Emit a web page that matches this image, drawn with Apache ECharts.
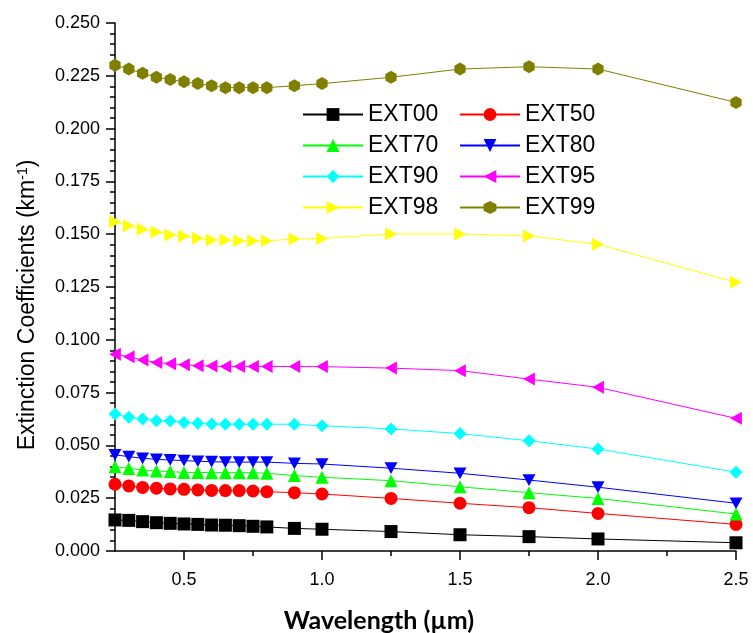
<!DOCTYPE html>
<html>
<head>
<meta charset="utf-8">
<script src="https://cdn.jsdelivr.net/npm/echarts@6/dist/echarts.min.js"></script>
<style>html,body{margin:0;padding:0;background:#fff}#c{width:753px;height:633px}</style>
</head>
<body>
<div id="c"></div>
<script>
const wavelength = [0.25,0.3,0.35,0.4,0.45,0.5,0.55,0.6,0.65,0.7,0.75,0.8,0.9,1.0,1.25,1.5,1.75,2.0,2.5];
const EXT00 = [0.0147,0.0145,0.0139,0.0134,0.0131,0.0128,0.0126,0.0123,0.0122,0.0120,0.0117,0.0114,0.0107,0.0103,0.0092,0.0077,0.0068,0.0057,0.0039];
const EXT50 = [0.0316,0.0308,0.0301,0.0297,0.0294,0.0292,0.0289,0.0287,0.0286,0.0286,0.0284,0.0281,0.0276,0.0270,0.0249,0.0226,0.0205,0.0178,0.0126];
const EXT70 = [0.0399,0.0391,0.0383,0.0379,0.0376,0.0372,0.0372,0.0371,0.0371,0.0371,0.0371,0.0368,0.0357,0.0349,0.0333,0.0304,0.0276,0.0249,0.0175];
const EXT80 = [0.0455,0.0447,0.0439,0.0434,0.0431,0.0428,0.0425,0.0423,0.0421,0.0421,0.0421,0.0421,0.0415,0.0412,0.0392,0.0368,0.0336,0.0302,0.0226];
const EXT90 = [0.0649,0.0633,0.0625,0.0617,0.0616,0.0609,0.0605,0.0601,0.0600,0.0600,0.0600,0.0600,0.0600,0.0593,0.0578,0.0556,0.0522,0.0483,0.0373];
const EXT95 = [0.0931,0.0920,0.0904,0.0893,0.0887,0.0882,0.0877,0.0876,0.0874,0.0874,0.0874,0.0874,0.0873,0.0873,0.0866,0.0854,0.0814,0.0775,0.0628];
const EXT98 = [0.1559,0.1540,0.1523,0.1510,0.1496,0.1492,0.1481,0.1473,0.1473,0.1469,0.1469,0.1469,0.1477,0.1480,0.1501,0.1501,0.1492,0.1452,0.1272];
const EXT99 = [0.2300,0.2282,0.2262,0.2243,0.2232,0.2222,0.2213,0.2203,0.2194,0.2194,0.2194,0.2194,0.2203,0.2213,0.2243,0.2282,0.2293,0.2282,0.2124];
const xMajorTicks = [0.5,1.0,1.5,2.0,2.5];
const xMinorTicks = [0.75,1.25,1.75,2.25];

const seriesDefs = [
  {name:'EXT00', data:EXT00, color:'#000000', symbol:'rect'},
  {name:'EXT50', data:EXT50, color:'#ff0000', symbol:'circle'},
  {name:'EXT70', data:EXT70, color:'#00ff00', symbol:'triangle'},
  {name:'EXT80', data:EXT80, color:'#0000ff', symbol:'path://M0,0L2,0L1,1.8Z'},
  {name:'EXT90', data:EXT90, color:'#00ffff', symbol:'diamond'},
  {name:'EXT95', data:EXT95, color:'#ff00ff', symbol:'path://M1.8,0L0,1L1.8,2Z'},
  {name:'EXT98', data:EXT98, color:'#ffff00', symbol:'path://M0,0L1.8,1L0,2Z'},
  {name:'EXT99', data:EXT99, color:'#808000', symbol:'path://M0,-10L8.66,-5L8.66,5L0,10L-8.66,5L-8.66,-5Z'}
];

const chart = echarts.init(document.getElementById('c'), null, {renderer:'canvas'});
const font = 'Liberation Sans';
const legendCommon = {
  orient:'vertical', itemWidth:60, itemHeight:16, itemGap:8, padding:0,
  textStyle:{fontFamily:font, fontSize:23, color:'#000'},
  selectedMode:false
};
chart.setOption({
  animation:false,
  backgroundColor:'#fff',
  grid:{left:115, top:23, right:17, bottom:82, containLabel:false},
  legend:[
    Object.assign({left:302, top:103, data:['EXT00','EXT70','EXT90','EXT98']}, legendCommon),
    Object.assign({left:459, top:103, data:['EXT50','EXT80','EXT95','EXT99']}, legendCommon)
  ],
  xAxis:[
    {type:'value', min:0.25, max:2.5, interval:0.25, position:'bottom',
     axisLine:{show:true, onZero:false, lineStyle:{color:'#000', width:1.5}},
     axisTick:{show:true, customValues:xMajorTicks, length:9, lineStyle:{color:'#000', width:1.5}},
     axisLabel:{customValues:xMajorTicks, formatter:v=>v.toFixed(1), fontFamily:font, fontSize:18, color:'#000', margin:20},
     splitLine:{show:false}},
    {type:'value', min:0.25, max:2.5, interval:0.25, position:'bottom',
     axisLine:{show:false, onZero:false},
     axisTick:{show:true, customValues:xMinorTicks, length:5, lineStyle:{color:'#000', width:1.5}},
     axisLabel:{show:false}, splitLine:{show:false}}
  ],
  yAxis:{type:'value', min:0, max:0.25, interval:0.025,
    axisLine:{show:true, lineStyle:{color:'#000', width:1.5}},
    axisTick:{show:true, length:9, lineStyle:{color:'#000', width:1.5}},
    minorTick:{show:true, splitNumber:5, length:5, lineStyle:{color:'#000', width:1.5}},
    axisLabel:{formatter:v=>v.toFixed(3), fontFamily:font, fontSize:18, color:'#000', margin:15},
    splitLine:{show:false}},
  graphic:[
    {type:'text', x:28, y:305, rotation:Math.PI/2,
     style:{text:'Extinction Coefficients (km{sup|-1})', fontFamily:font, fontSize:23, fill:'#000',
       align:'center', verticalAlign:'middle',
       rich:{sup:{fontFamily:font, fontSize:14, fill:'#000', verticalAlign:'top', padding:[0,0,10,0]}}}},
    {type:'text', x:379, y:621,
     style:{text:'Wavelength (\u00b5m)', fontFamily:'Lato', fontWeight:'bold', fontSize:25, fill:'#000',
       align:'center', verticalAlign:'middle'}}
  ],
  series: seriesDefs.map(s=>({
    name:s.name, type:'line', xAxisIndex:0,
    data: wavelength.map((x,i)=>[x, s.data[i]]),
    symbol:s.symbol, symbolSize:13, symbolKeepAspect:true, showSymbol:true, showAllSymbol:true,
    clip:false,
    lineStyle:{color:s.color, width:1},
    itemStyle:{color:s.color, borderWidth:0},
    emphasis:{disabled:true}
  }))
});
</script>
</body>
</html>
